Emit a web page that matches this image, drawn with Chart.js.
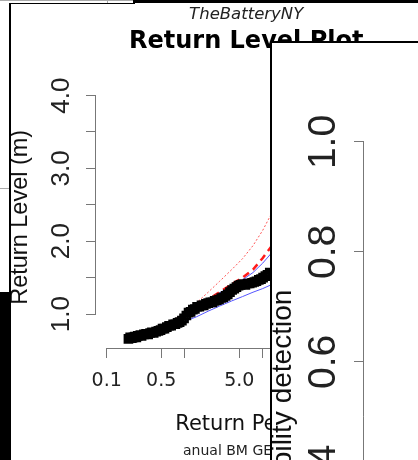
<!DOCTYPE html>
<html>
<head>
<meta charset="utf-8">
<script src="https://cdn.jsdelivr.net/npm/chart.js@4.4.1/dist/chart.umd.min.js"></script>
<style>
  html, body { margin: 0; padding: 0; width: 418px; height: 460px; overflow: hidden; background: #fff; }
  canvas { position: absolute; left: 0; top: 0; }
  .blk { position: absolute; background: #000; }
  .gry { position: absolute; background: #aaa; }
  #leftStrip { position: absolute; left: 0; top: 0; width: 9px; height: 292px; background: #fff; }
  #subnote { position: absolute; left: 183px; top: 442px; font: 14px "DejaVu Sans"; line-height: 16px; color: #222; white-space: nowrap; }
  #panel { position: absolute; left: 270px; top: 41px; width: 148px; height: 419px; background: #fff;
           border-left: 2px solid #000; border-top: 2px solid #000; box-sizing: border-box; overflow: hidden; }
</style>
</head>
<body>
<canvas id="rlChart" width="404" height="460"></canvas>
<div id="subnote">anual BM GEV</div>

<div id="leftStrip"></div>
<div class="gry" style="left:0;top:0;width:133px;height:1px"></div>
<div class="gry" style="left:107px;top:0;width:1px;height:3px"></div>
<div class="gry" style="left:0;top:188px;width:9px;height:1px"></div>
<div class="blk" style="left:133px;top:0;width:285px;height:3px"></div>
<div class="blk" style="left:9px;top:3px;width:126px;height:1px"></div>
<div class="blk" style="left:9px;top:3px;width:2px;height:289px"></div>
<div class="blk" style="left:0;top:292px;width:11px;height:168px"></div>

<div id="panel"><canvas id="pdChart" width="146" height="712"></canvas></div>

<script>
// empirical return levels (block maxima)
const rlPeriod = [0.19, 0.20, 0.21, 0.22, 0.23, 0.24, 0.25,
  0.27, 0.28, 0.30, 0.32, 0.34, 0.36, 0.38, 0.40,
  0.43, 0.46, 0.49, 0.52, 0.55, 0.59, 0.63, 0.67, 0.71, 0.76,
  0.81, 0.86, 0.92, 0.98, 1.05, 1.12, 1.19, 1.27, 1.35, 1.44,
  1.54, 1.64, 1.75, 1.87, 2.0, 2.13, 2.27, 2.42, 2.58, 2.75,
  2.94, 3.13, 3.34, 3.56, 3.8, 4.05, 4.32, 4.6, 4.9, 5.2,
  5.6, 6.0, 6.4, 6.8, 7.3, 7.8, 8.3, 8.9, 9.5, 10.1,
  10.8, 11.5, 12.3];
const rlLevel = [0.66, 0.68, 0.67, 0.68, 0.69, 0.68, 0.70,
  0.71, 0.70, 0.72, 0.73, 0.72, 0.74, 0.75, 0.74,
  0.76, 0.77, 0.78, 0.80, 0.80, 0.82, 0.84, 0.84, 0.86, 0.86,
  0.88, 0.89, 0.91, 0.94, 0.98, 1.02, 1.03, 1.06, 1.07, 1.10,
  1.10, 1.12, 1.12, 1.14, 1.15, 1.16, 1.16, 1.18, 1.19, 1.20,
  1.22, 1.23, 1.25, 1.27, 1.30, 1.33, 1.35, 1.37, 1.39, 1.40,
  1.41, 1.40, 1.42, 1.42, 1.43, 1.44, 1.45, 1.47, 1.48, 1.50,
  1.52, 1.54, 1.57];

// fitted GEV curve and intervals
const fitPeriod = [0.19, 0.25, 0.35, 0.5, 0.7, 1.0, 1.4, 2.0, 2.8, 4.0, 5.5, 7.5, 10, 14, 20];
const fitLevel  = [0.65, 0.68, 0.73, 0.79, 0.86, 0.96, 1.08, 1.20, 1.30, 1.41, 1.50, 1.61, 1.77, 1.98, 2.25];
const ciUpper   = [0.67, 0.70, 0.75, 0.82, 0.91, 1.02, 1.15, 1.30, 1.45, 1.61, 1.76, 1.94, 2.15, 2.45, 2.85];
const profUpper = [0.66, 0.69, 0.73, 0.79, 0.86, 0.96, 1.07, 1.18, 1.29, 1.39, 1.47, 1.57, 1.70, 1.88, 2.10];
const profLower = [0.63, 0.67, 0.73, 0.79, 0.85, 0.90, 0.96, 1.04, 1.11, 1.18, 1.24, 1.30, 1.35, 1.42, 1.50];

const levelTicks = [1, 1.5, 2, 2.5, 3, 3.5, 4];
const levelLabels = ['1.0', '', '2.0', '', '3.0', '', '4.0'];
const periodTicks = [0.1, 0.5, 1, 5, 10, 50, 100];
const periodLabels = ['0.1', '0.5', '', '5.0', '', '50.0', ''];
const probTicks = [0, 0.2, 0.4, 0.6, 0.8, 1.0];
const probLabels = ['0.0', '0.2', '0.4', '0.6', '0.8', '1.0'];

const pts = (xs, ys) => xs.map((x, i) => ({x: x, y: ys[i]}));

// R style axis: line only runs from first to last tick
const rAxis = {
  id: 'rAxis',
  beforeDatasetsDraw(chart, args, opts) {
    const ctx = chart.ctx;
    ctx.save();
    ctx.strokeStyle = opts.color || '#777';
    ctx.lineWidth = 1;
    Object.values(chart.scales).forEach(s => {
      if (!s.options.display || !s.ticks.length) return;
      const a = s.getPixelForValue(s.ticks[0].value);
      const b = s.getPixelForValue(s.ticks[s.ticks.length - 1].value);
      ctx.beginPath();
      if (s.isHorizontal()) {
        ctx.moveTo(a, Math.round(s.top) + 0.5);
        ctx.lineTo(b, Math.round(s.top) + 0.5);
      } else {
        ctx.moveTo(Math.round(s.right) - 0.5, a);
        ctx.lineTo(Math.round(s.right) - 0.5, b);
      }
      ctx.stroke();
    });
    ctx.restore();
  }
};

const lineSet = (ys, color, width, dash) => ({
  data: pts(fitPeriod, ys), showLine: true, pointRadius: 0,
  borderColor: color, borderWidth: width, borderDash: dash
});

new Chart(document.getElementById('rlChart'), {
  type: 'scatter',
  data: {
    datasets: [
      { data: pts(rlPeriod, rlLevel), pointStyle: 'rect', pointRadius: 5,
        pointBorderColor: '#000', pointBackgroundColor: 'rgba(0,0,0,0)', pointBorderWidth: 2.6 },
      lineSet(fitLevel, '#ff1a1a', 2.5, [7, 5]),
      lineSet(ciUpper, '#ff5555', 1, [2, 2]),
      lineSet(profUpper, '#5555ff', 1, []),
      lineSet(profLower, '#5555ff', 1, [])
    ]
  },
  options: {
    responsive: false,
    animation: false,
    layout: { padding: 0 },
    plugins: {
      legend: { display: false },
      tooltip: { enabled: false },
      title: { display: true, text: 'TheBatteryNY', fullSize: false, color: '#222',
        font: { family: 'DejaVu Sans', size: 16.5, style: 'italic', weight: 'normal' },
        padding: { top: 5, bottom: 2 } },
      subtitle: { display: true, text: 'Return Level Plot', fullSize: false, color: '#000',
        font: { family: 'DejaVu Sans', size: 24, weight: 'bold' },
        padding: { top: 1, bottom: 30 } },
      rAxis: { color: '#777' }
    },
    scales: {
      x: {
        type: 'logarithmic', min: 0.07295, max: 516, bounds: 'data',
        afterBuildTicks: s => { s.ticks = periodTicks.map(v => ({value: v})); },
        afterFit: s => { s.height = 112; },
        border: { display: false },
        grid: { drawOnChartArea: false, tickLength: 10, color: '#777' },
        ticks: { autoSkip: false, maxRotation: 0, padding: 12, color: '#222',
          font: { family: 'DejaVu Sans', size: 19 },
          callback: (v, i) => periodLabels[i] },
        title: { display: true, text: 'Return Period', color: '#111',
          font: { family: 'DejaVu Sans', size: 21 }, padding: { top: 0, bottom: 23 } }
      },
      y: {
        type: 'linear', min: 0.534, max: 4.123, bounds: 'data',
        afterBuildTicks: s => { s.ticks = levelTicks.map(v => ({value: v})); },
        afterFit: s => { s.width = 96; },
        border: { display: false },
        grid: { drawOnChartArea: false, tickLength: 10, color: '#777' },
        ticks: { minRotation: 90, maxRotation: 90, crossAlign: 'center', padding: 6, color: '#222',
          font: { family: 'Liberation Sans', size: 26 },
          callback: (v, i) => levelLabels[i] },
        title: { display: true, text: 'Return Level (m)', color: '#111',
          font: { family: 'Liberation Sans', size: 23.5 }, padding: { top: 6, bottom: 0 } }
      }
    }
  },
  plugins: [rAxis]
});

// probability of detection panel, only its y axis is in view
new Chart(document.getElementById('pdChart'), {
  type: 'scatter',
  data: { datasets: [] },
  options: {
    responsive: false,
    animation: false,
    layout: { padding: { top: 60, bottom: 0, left: 0, right: 0 } },
    plugins: { legend: { display: false }, tooltip: { enabled: false }, rAxis: { color: '#777' } },
    scales: {
      x: { display: false, min: 0, max: 1 },
      y: {
        type: 'linear', min: -0.0673, max: 1.0709, bounds: 'data',
        afterBuildTicks: s => { s.ticks = probTicks.map(v => ({value: v})); },
        afterFit: s => { s.width = 92; },
        border: { display: false },
        grid: { drawOnChartArea: false, tickLength: 10, color: '#777' },
        ticks: { minRotation: 90, maxRotation: 90, crossAlign: 'center', padding: 3, color: '#222',
          font: { family: 'Liberation Sans', size: 39 },
          callback: (v, i) => probLabels[i] },
        title: { display: true, text: 'Probability detection', color: '#111',
          font: { family: 'Liberation Sans', size: 28, lineHeight: 0.8 }, padding: 0 }
      }
    }
  },
  plugins: [rAxis]
});
</script>
</body>
</html>
